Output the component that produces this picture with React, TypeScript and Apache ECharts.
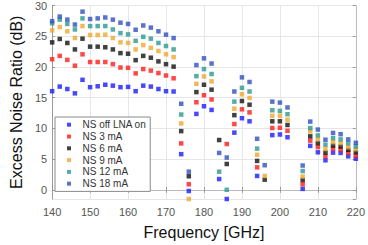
import React, { useEffect, useRef } from "react";
import * as echarts from "echarts";

const freqs = [140, 142, 144, 146, 148, 150, 152, 154, 156, 158, 160, 162, 164, 166, 168, 170, 172, 174, 176, 178, 180, 182, 184, 186, 188, 190, 192, 194, 196, 198, 200, 202, 204, 206, 208, 210, 212, 214, 216, 218, 220];

const nsOffLnaOn = [16.05, 16.8, 16.4, 15.7, 17.9, 16.7, 16.85, 17.1, 16.95, 16.7, 16.75, 16.05, 16.95, 16.8, 16.4, 16.05, 16.0, 5.8, -0.2, 12.35, 13.6, 13.0, 1.75, -1.5, 9.3, 11.65, 11.15, 2.25, null, 8.9, 9.0, 8.55, null, 0.15, 7.15, 6.1, 4.8, 6.05, 6.0, 5.45, 5.05];
const ns3mA = [21.25, 21.8, 21.15, 20.2, 22.05, 20.8, 20.8, 20.8, 20.45, 19.9, 19.85, 18.95, 19.65, 19.4, 19.0, 18.6, 18.15, 7.55, 0.9, 14.25, 15.4, 14.7, null, 7.45, 10.7, 13.1, 12.6, 3.65, null, 10.05, 10.1, 9.6, null, 0.9, 8.0, 6.95, 5.45, 6.7, 6.55, 6.05, 5.55];
const ns6mA = [24.0, 24.55, 23.9, 22.85, 24.6, 23.3, 23.3, 23.2, 22.85, 22.25, 22.15, 21.1, 21.8, 21.5, 20.9, 20.45, 20.05, 9.55, 2.2, 15.9, 17.1, 16.3, 8.1, 4.2, 12.15, 14.45, 13.85, 4.7, 1.65, 11.15, 11.15, 10.55, null, 1.6, 8.7, 7.6, 6.05, 7.2, 7.05, 6.5, 6.1];
const ns9mA = [25.95, 26.5, 25.8, 24.7, 26.65, 25.2, 25.2, 25.25, 24.7, 24.0, 23.9, 22.85, 23.55, 23.1, 22.6, 22.05, 21.6, 10.8, -1.5, 17.25, 18.45, 17.65, null, null, 13.2, 15.55, 14.95, 5.7, 2.25, 12.05, 12.05, 11.4, null, 2.15, 9.5, 8.2, 6.65, 7.75, 7.6, 6.95, 6.6];
const ns12mA = [27.1, 27.7, 27.0, 26.1, 27.9, 26.65, 26.65, 26.65, 26.1, 25.5, 25.3, 24.25, 24.9, 24.6, 23.9, 23.4, 22.85, 12.25, null, 18.5, 19.65, 18.85, 2.95, 0.0, 14.35, 16.6, 16.0, 6.7, null, 12.95, 12.85, 12.3, null, 3.05, 10.05, 8.85, 7.35, 8.4, 8.2, 7.55, 7.05];
const ns18mA = [27.45, 28.2, 27.7, 26.9, 29.0, 27.8, 27.9, 28.05, 27.7, 27.2, 27.0, 26.05, 26.75, 26.4, 25.8, 25.25, 24.7, 14.0, 2.95, 20.3, 21.4, 20.55, 6.0, 5.25, 16.0, 18.3, 17.55, 8.3, 4.0, 14.35, 14.2, 13.4, null, 3.95, 11.1, 9.8, 8.15, 9.25, 9.05, 8.2, 7.65];

const seriesNames = ["NS off LNA on", "NS 3 mA", "NS 6 mA", "NS 9 mA", "NS 12 mA", "NS 18 mA"];
const seriesValues = [nsOffLnaOn, ns3mA, ns6mA, ns9mA, ns12mA, ns18mA];
const seriesColors = ["#1a1aff", "#ff1a1a", "#111111", "#f0a830", "#2a9a8f", "#3050c0"];

const FONT = "'Liberation Sans', Arial, sans-serif";

export default function App() {
  const ref = useRef<HTMLDivElement>(null);
  useEffect(() => {
    if (!ref.current) return;
    const chart = echarts.init(ref.current, null, { renderer: "svg" });
    const series = seriesNames.map((name, i) => ({
      name,
      type: "scatter",
      symbol: "rect",
      symbolSize: 4.5,
      clip: false,
      itemStyle: { color: seriesColors[i] },
      data: freqs
        .map((f, j) => [f, seriesValues[i][j]])
        .filter((p) => p[1] !== null && p[1] !== undefined),
    }));
    chart.setOption({
      animation: false,
      backgroundColor: "#ffffff",
      textStyle: { fontFamily: FONT },
      grid: {
        left: 51,
        right: 9,
        top: 5,
        bottom: 45,
        show: false,
      },
      legend: {
        orient: "vertical",
        left: 55,
        top: 117,
        padding: [1.8, 4, 1.8, 12],
        itemGap: 0,
        itemWidth: 4,
        itemHeight: 4,
        icon: "rect",
        backgroundColor: "#ffffff",
        borderColor: "#8a8a8a",
        borderWidth: 1,
        data: seriesNames,
        textStyle: {
          fontFamily: FONT,
          fontSize: 10,
          color: "#333333",
          lineHeight: 11.8,
          padding: [0, 0, 0, 6.5],
        },
      },
      xAxis: [
        {
          type: "value",
          min: 140,
          max: 220,
          interval: 10,
          name: "Frequency [GHz]",
          nameLocation: "middle",
          nameGap: 25,
          nameTextStyle: { fontFamily: FONT, fontSize: 16, color: "#111111" },
          axisLine: { show: true, lineStyle: { color: "#999999", width: 1 } },
          axisTick: { show: true, inside: true, length: 3, lineStyle: { color: "#999999" } },
          axisLabel: { fontFamily: FONT, fontSize: 11, color: "#555555", margin: 7 },
          splitLine: { show: true, lineStyle: { color: "#e6e6e6", width: 1 } },
        },
        {
          type: "value",
          position: "top",
          min: 140,
          max: 220,
          interval: 10,
          axisLine: { show: true, lineStyle: { color: "#bbbbbb", width: 1 } },
          axisTick: { show: true, inside: true, length: 3, lineStyle: { color: "#999999" } },
          axisLabel: { show: false },
          splitLine: { show: false },
        },
      ],
      yAxis: [
        {
          type: "value",
          min: -1.5,
          max: 30,
          name: "Excess Noise Ratio (dB)",
          nameLocation: "middle",
          nameGap: 27,
          nameTextStyle: { fontFamily: FONT, fontSize: 16, color: "#111111" },
          axisLine: { show: true, lineStyle: { color: "#999999", width: 1 } },
          axisTick: { show: true, inside: true, length: 3, lineStyle: { color: "#999999" } },
          axisLabel: {
            fontFamily: FONT,
            fontSize: 11,
            color: "#555555",
            margin: 5,
            showMinLabel: false,
            formatter: (v: number) => (v % 5 === 0 ? String(v) : ""),
          },
          splitLine: { show: true, lineStyle: { color: "#e6e6e6", width: 1 } },
        },
        {
          type: "value",
          position: "right",
          min: -1.5,
          max: 30,
          axisLine: { show: true, lineStyle: { color: "#bbbbbb", width: 1 } },
          axisTick: { show: true, inside: true, length: 3, lineStyle: { color: "#999999" } },
          axisLabel: { show: false },
          splitLine: { show: false },
        },
      ],
      series,
    });
    return () => chart.dispose();
  }, []);
  return (
    <div
      ref={ref}
      style={{ position: "fixed", left: 0, top: 0, width: 368, height: 245 }}
    />
  );
}
